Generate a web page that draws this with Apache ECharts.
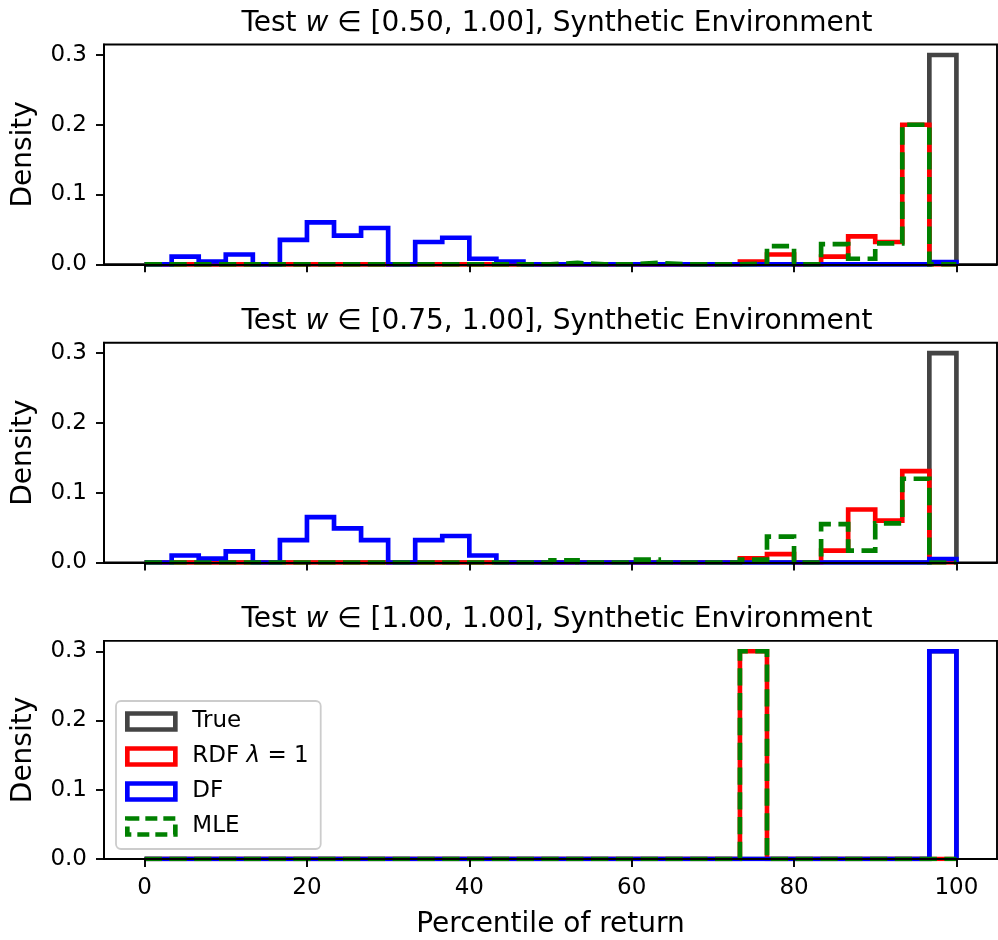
<!DOCTYPE html>
<html><head><meta charset="utf-8">
<script src="https://cdn.jsdelivr.net/npm/echarts@6/dist/echarts.min.js"></script>
<style>html,body{margin:0;padding:0;background:#fff}#c{width:998px;height:940px}</style>
</head><body><div id="c"></div>
<script>
// Histogram bins: 30 bins of equal width over [0, 100]
const BIN_COUNT = 30;
const BIN_START = 0;
const BIN_END = 100;

const panelTitles = [
  'Test {i|w} ∈ [0.50, 1.00], Synthetic Environment',
  'Test {i|w} ∈ [0.75, 1.00], Synthetic Environment',
  'Test {i|w} ∈ [1.00, 1.00], Synthetic Environment'
];
const methodNames = ['True', 'RDF λ = 1', 'DF', 'MLE'];
const xTicks = [0, 20, 40, 60, 80, 100];
const yTicks = [0, 0.1, 0.2, 0.3];

// Panel 1 densities (per bin)
const true1 = [0,0,0,0,0,0,0,0,0,0,0,0,0,0,0,0,0,0,0,0,0,0,0,0,0,0,0,0,0,0.3];
const rdf1  = [0,0,0,0,0,0,0,0,0,0,0,0,0,0,0,0,0,0,0,0,0,0,0.004,0.014,0,0.011,0.040,0.032,0.200,0];
const df1   = [0,0.011,0.004,0.014,0,0.035,0.060,0.041,0.052,0,0.032,0.038,0.008,0.004,0,0,0,0,0,0,0,0,0,0,0,0,0,0,0,0.003];
const mle1  = [0,0,0,0,0,0,0,0,0,0,0,0,0,0,0,0.002,0,0,0.002,0,0,0,0.001,0.026,0,0.029,0.008,0.030,0.200,0];

// Panel 2
const true2 = [0,0,0,0,0,0,0,0,0,0,0,0,0,0,0,0,0,0,0,0,0,0,0,0,0,0,0,0,0,0.3];
const rdf2  = [0,0,0,0,0,0,0,0,0,0,0,0,0,0,0,0,0,0,0,0,0,0,0.006,0.012,0,0.017,0.076,0.060,0.131,0];
const df2   = [0,0.010,0.0055,0.016,0,0.032,0.065,0.049,0.032,0,0.032,0.038,0.010,0,0,0,0,0,0,0,0,0,0,0,0,0,0,0,0,0.005];
const mle2  = [0,0,0,0,0,0,0,0,0,0,0,0,0,0,0,0.003,0,0,0.004,0,0,0,0.004,0.037,0,0.055,0.017,0.056,0.120,0];

// Panel 3
const true3 = [0,0,0,0,0,0,0,0,0,0,0,0,0,0,0,0,0,0,0,0,0,0,0,0,0,0,0,0,0,0.3];
const rdf3  = [0,0,0,0,0,0,0,0,0,0,0,0,0,0,0,0,0,0,0,0,0,0,0.3,0,0,0,0,0,0,0];
const df3   = [0,0,0,0,0,0,0,0,0,0,0,0,0,0,0,0,0,0,0,0,0,0,0,0,0,0,0,0,0,0.3];
const mle3  = [0,0,0,0,0,0,0,0,0,0,0,0,0,0,0,0,0,0,0,0,0,0,0.3,0,0,0,0,0,0,0];

const panels = [[true1, rdf1, df1, mle1], [true2, rdf2, df2, mle2], [true3, rdf3, df3, mle3]];

const LW = 4.67;
const styles = [
  {color: '#444444', type: 'solid'},
  {color: '#ff0000', type: 'solid'},
  {color: '#0000ff', type: 'solid'},
  {color: '#008000', type: [17.3, 7.5]}
];
const FONT = 'DejaVu Sans';

function edges() {
  const e = [];
  for (let i = 0; i <= BIN_COUNT; i++) e.push(BIN_START + (BIN_END - BIN_START) * i / BIN_COUNT);
  return e;
}
function stepPoints(vals) {
  const e = edges();
  const pts = [[e[0], 0]];
  for (let i = 0; i < vals.length; i++) {
    pts.push([e[i], vals[i]]);
    pts.push([e[i + 1], vals[i]]);
  }
  pts.push([e[vals.length], 0]);
  return pts;
}

const gridTops = [44.5, 342.7, 640.9];
const gridH = 219.8;
const grids = [], xAxes = [], yAxes = [], titles = [], series = [];
for (let p = 0; p < 3; p++) {
  grids.push({left: 104, width: 893, top: gridTops[p], height: gridH, show: true,
    borderColor: '#000', borderWidth: 1.9, backgroundColor: 'transparent'});
  titles.push({text: panelTitles[p], left: 552, textAlign: 'center', top: gridTops[p] - 40,
    textStyle: {fontFamily: FONT, fontSize: 28, fontWeight: 'normal', color: '#000',
      rich: {i: {fontFamily: FONT, fontSize: 28, fontStyle: 'italic', color: '#000'}}}});
  const last = p === 2;
  xAxes.push({type: 'value', gridIndex: p, min: -5, max: 105, z: 10,
    axisLine: {show: true, onZero: false, lineStyle: {color: '#000', width: 1.9}},
    axisTick: {show: true, length: 8, lineStyle: {color: '#000', width: 1.9}, customValues: xTicks},
    axisLabel: {show: last, customValues: xTicks, margin: 18, fontFamily: FONT, fontSize: 23, color: '#000'},
    splitLine: {show: false},
    name: last ? 'Percentile of return' : '', nameLocation: 'middle', nameGap: 52,
    nameTextStyle: {fontFamily: FONT, fontSize: 28, color: '#000'}});
  yAxes.push({type: 'value', gridIndex: p, min: 0, max: 0.315, z: 10,
    axisLine: {show: true, onZero: false, lineStyle: {color: '#000', width: 1.9}},
    axisTick: {show: true, length: 8, lineStyle: {color: '#000', width: 1.9}, customValues: yTicks},
    axisLabel: {customValues: yTicks, margin: 17, fontFamily: FONT, fontSize: 23, color: '#000',
      formatter: v => v.toFixed(1)},
    splitLine: {show: false},
    name: 'Density', nameLocation: 'middle', nameRotate: 90, nameGap: 66,
    nameTextStyle: {fontFamily: FONT, fontSize: 28, color: '#000'}});
  for (let m = 0; m < 4; m++) {
    series.push({type: 'line', name: methodNames[m], xAxisIndex: p, yAxisIndex: p,
      data: stepPoints(panels[p][m]), symbol: 'none', silent: true, animation: false, z: 2 + m,
      lineStyle: {color: styles[m].color, width: LW, type: styles[m].type, join: 'miter', cap: 'butt'},
      itemStyle: {color: styles[m].color}});
  }
}

const chart = echarts.init(document.getElementById('c'), null, {renderer: 'canvas'});
chart.setOption({
  animation: false,
  backgroundColor: '#fff',
  title: titles,
  grid: grids,
  xAxis: xAxes,
  yAxis: yAxes,
  legend: {
    orient: 'vertical', left: 116, top: 701, z: 20,
    backgroundColor: 'rgba(255,255,255,0.8)', borderColor: '#cccccc', borderWidth: 1.8, borderRadius: 5,
    padding: [8, 12, 10, 9], itemGap: 10, itemWidth: 48, itemHeight: 16,
    selectedMode: false,
    textStyle: {fontFamily: FONT, fontSize: 23, color: '#000', lineHeight: 25, padding: [0, 0, 0, 12],
      rich: {n: {fontFamily: FONT, fontSize: 23, color: '#000'}, i: {fontFamily: FONT, fontSize: 23, fontStyle: 'italic', color: '#000'}}},
    formatter: n => n === 'RDF λ = 1' ? '{n|RDF }{i|λ}{n| = 1}' : n,
    data: methodNames.map((n, m) => ({
      name: n, icon: 'rect',
      itemStyle: {color: '#ffffff', borderColor: styles[m].color, borderWidth: LW, borderType: m === 3 ? [12, 6] : 'solid'},
      lineStyle: {opacity: 0}
    }))
  },
  series: series
});
</script></body></html>
